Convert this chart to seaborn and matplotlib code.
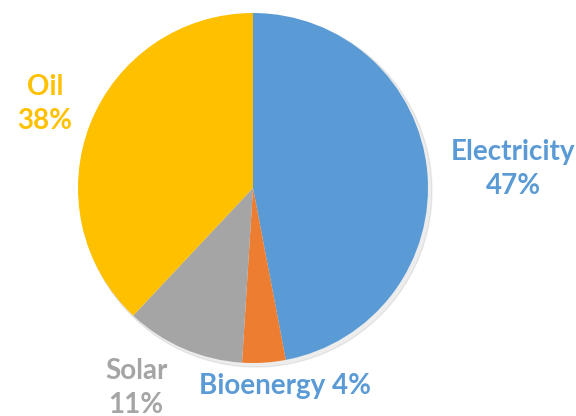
import matplotlib
matplotlib.use("Agg")
import matplotlib.pyplot as plt
import seaborn as sns

sns.set_style("white")
plt.rcParams['font.family'] = ['Lato', 'DejaVu Sans']

categories = ["Electricity", "Bioenergy", "Solar", "Oil"]
values = [47, 4, 11, 38]
colors = ["#5B9BD5", "#ED7D31", "#A5A5A5", "#FFC000"]
label_colors = ["#5B9BD5", "#5B9BD5", "#A5A5A5", "#FFC000"]
label_texts = ["Electricity\n47%", "Bioenergy 4%", "Solar\n11%", "Oil\n38%"]

W, H = 576, 416
fig = plt.figure(figsize=(W / 100, H / 100), dpi=100)
ax = fig.add_axes([0, 0, 1, 1])

cx, cy, r = 253, H - 188, 175
# faint shadow
shadow = plt.Circle((cx + 3, cy - 3), r + 1, color="#000000", alpha=0.07, zorder=0)
ax.add_patch(shadow)
ax.pie(values, colors=colors, startangle=90, counterclock=False,
       center=(cx, cy), radius=r, frame=True,
       wedgeprops=dict(linewidth=0))
ax.set_xlim(0, W)
ax.set_ylim(0, H)
ax.set_aspect("equal")
ax.axis("off")

label_pos = [(513, H - 169), (285, H - 386), (136, H - 388), (45, H - 104)]
for txt, (x, y), c in zip(label_texts, label_pos, label_colors):
    ax.text(x, y, txt, color=c, fontsize=20, fontweight="bold",
            ha="center", va="center", linespacing=1.4)

fig.savefig("out.png", dpi=100)
